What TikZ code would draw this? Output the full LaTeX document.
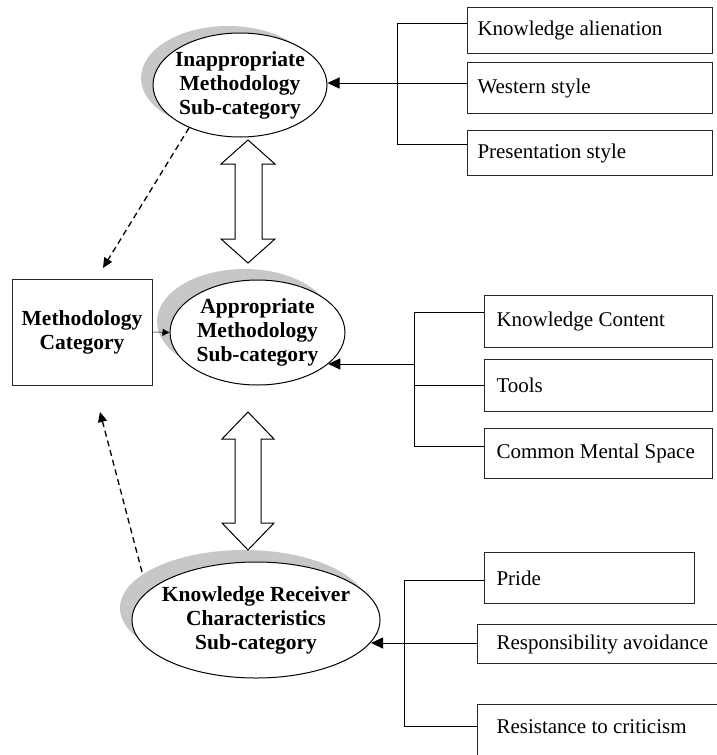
\documentclass[tikz,border=0pt]{standalone}
\usepackage{fontspec}
\setmainfont{Liberation Serif}
\usetikzlibrary{arrows.meta,shapes.geometric,backgrounds,calc}
\newcommand\boxtxt[2]{\makebox[#1][l]{#2}}
\begin{document}
\begin{tikzpicture}[x=1pt,y=-1pt,line width=1pt,
 ell/.style={ellipse,draw,fill=white,line width=1pt,inner sep=-15pt,align=center,font=\fontsize{21.5}{24}\selectfont\bfseries},
 itembox/.style={draw=black!85,line width=1pt,anchor=north west,inner ysep=0pt,font=\fontsize{21}{24}\selectfont},
 catbox/.style={draw=black!85,line width=1pt,align=center,font=\fontsize{21.5}{24}\selectfont\bfseries},
 shade/.style={fill=black!22},
 solidarr/.style={-{Triangle[length=12pt,width=11pt]},line width=1pt},
 dasharr/.style={-{Triangle[length=10pt,width=9pt]},line width=1.3pt,dash pattern=on 6pt off 4pt},
 dotarr/.style={-{Triangle[length=7pt,width=7pt]},line width=1pt,densely dotted},
 blockarrow/.style={draw,fill=white,line width=1pt,line join=miter}]
\useasboundingbox (0,0) rectangle (717,755);
\clip (0,0) rectangle (717,755);

% ellipses
\node[ell,minimum width=174pt,minimum height=104pt] (e1) at (240,85) {Inappropriate\\Methodology\\Sub-category};
\node[ell,minimum width=175pt,minimum height=105pt] (e2) at (257.5,332.5) {Appropriate\\Methodology\\Sub-category};
\node[ell,minimum width=248pt,minimum height=116pt] (e3) at (256,620) {Knowledge Receiver\\Characteristics\\Sub-category};

\begin{scope}[on background layer]
\fill[shade] ($(e1.center)+(-12,-7)$) ellipse [x radius=87, y radius=52];
\fill[shade] ($(e2.center)+(-13,-11)$) ellipse [x radius=87.5, y radius=52.5];
\fill[shade] ($(e3.center)+(-12,-12)$) ellipse [x radius=124, y radius=58];
\end{scope}

% category box
\node[catbox,minimum width=140pt,minimum height=106pt] (mc) at (82,332) {Methodology\\Category};

% item boxes
\node[itembox,inner xsep=10pt,minimum height=46pt] (a1) at (467,7) {\boxtxt{225pt}{Knowledge alienation}};
\node[itembox,inner xsep=10pt,minimum height=51pt] (a2) at (467,62) {\boxtxt{225pt}{Western style}};
\node[itembox,inner xsep=10pt,minimum height=45pt] (a3) at (467,130) {\boxtxt{225pt}{Presentation style}};

\node[itembox,inner xsep=12pt,minimum height=52pt] (b1) at (484,295) {\boxtxt{204pt}{Knowledge Content}};
\node[itembox,inner xsep=12pt,minimum height=52pt] (b2) at (484,359) {\boxtxt{204pt}{Tools}};
\node[itembox,inner xsep=12pt,minimum height=50pt] (b3) at (484,428) {\boxtxt{204pt}{Common Mental Space}};

\node[itembox,inner xsep=12pt,minimum height=51pt] (c1) at (484,552) {\boxtxt{186pt}{Pride}};
\node[itembox,inner xsep=19pt,minimum height=39pt] (c2) at (477,624) {\boxtxt{222pt}{Responsibility avoidance}};
\node[itembox,inner xsep=19pt,minimum height=58pt,text depth=14pt] (c3) at (477,704) {\boxtxt{222pt}{Resistance to criticism}};

% bracket 1
\coordinate (j1) at (397,83);
\coordinate (a1j) at (397,23);
\coordinate (a2j) at (397,83);
\coordinate (a3j) at (397,144);
\draw (a1j) -- (a3j);
\draw (a1j) -- (a1j -| a1.west);
\draw (a2j) -- (a2j -| a2.west);
\draw (a3j) -- (a3j -| a3.west);
\draw[solidarr] (j1) -- (j1 -| e1.east);

% bracket 2
\coordinate (j2) at (414,364);
\coordinate (b1j) at (414,312);
\coordinate (b2j) at (414,385);
\coordinate (b3j) at (414,446);
\draw (b1j) -- (b3j);
\draw (b1j) -- (b1j -| b1.west);
\draw (b2j) -- (b2j -| b2.west);
\draw (b3j) -- (b3j -| b3.west);
\draw[solidarr] (j2) -- (j2 -| e2.-24);

% bracket 3
\coordinate (j3) at (404,643);
\coordinate (c1j) at (404,580);
\coordinate (c2j) at (404,643);
\coordinate (c3j) at (404,726);
\draw (c1j) -- (c3j);
\draw (c1j) -- (c1j -| c1.west);
\draw (c2j) -- (c2j -| c2.west);
\draw (c3j) -- (c3j -| c3.west);
\draw[solidarr] (j3) -- (j3 -| e3.-11.4);

% block double arrows
\draw[blockarrow] (248,140) -- (275,164) -- (262,164) -- (262,239) -- (275,239) -- (248,263) -- (221,239) -- (235,239) -- (235,164) -- (221,164) -- cycle;
\draw[blockarrow] (248,412) -- (274,439) -- (261,439) -- (261,523) -- (274,523) -- (248,550) -- (222,523) -- (235,523) -- (235,439) -- (222,439) -- cycle;

% dashed / dotted arrows
\coordinate (d1) at (103,268);
\draw[dasharr] (e1.220) -- (d1);
\coordinate (d2s) at (142,572);
\coordinate (d2) at (100,412);
\draw[dasharr] (d2s) -- (d2);
\draw[dotarr] (mc.east) -- (e2.west);
\end{tikzpicture}
\end{document}
